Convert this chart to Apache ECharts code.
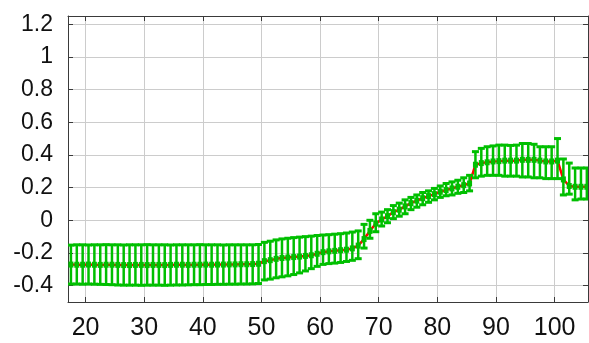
<!DOCTYPE html>
<html>
<head>
<meta charset="utf-8">
<script src="https://cdn.jsdelivr.net/npm/echarts@6/dist/echarts.min.js"></script>
<style>
html,body{margin:0;padding:0;background:#fff;}
#chart{width:589px;height:343px;}
</style>
</head>
<body>
<div id="chart"></div>
<script>
const ages = [17.5,18.5,19.5,20.5,21.5,22.5,23.5,24.5,25.5,26.5,27.5,28.5,29.5,30.5,31.5,32.5,33.5,34.5,35.5,36.5,37.5,38.5,39.5,40.5,41.5,42.5,43.5,44.5,45.5,46.5,47.5,48.5,49.5,
  50.5,51.5,52.5,53.5,54.5,55.5,56.5,57.5,58.5,59.5,
  60.5,61.5,62.5,63.5,64.5,65.5,66.5,
  67.5,68.5,69.5,70.5,71.5,72.5,73.5,74.5,75.5,76.5,77.5,78.5,79.5,80.5,81.5,82.5,83.5,84.5,85.5,
  86.5,87.5,88.5,89.5,90.5,91.5,92.5,93.5,94.5,95.5,96.5,97.5,98.5,99.5,100.5,
  101.5,102.5,103.5,104.5,105.5];
const meanValues = [-0.271,-0.272,-0.272,-0.271,-0.272,-0.273,-0.272,-0.272,-0.273,-0.274,-0.274,-0.273,-0.273,-0.274,-0.273,-0.273,-0.274,-0.273,-0.272,-0.272,-0.273,-0.272,-0.272,-0.271,-0.272,-0.271,-0.271,-0.270,-0.270,-0.269,-0.269,-0.268,-0.266,
  -0.250,-0.244,-0.236,-0.231,-0.228,-0.225,-0.222,-0.218,-0.214,-0.205,
  -0.195,-0.190,-0.187,-0.183,-0.180,-0.172,-0.155,
  -0.115,-0.065,-0.020,0.005,0.025,0.050,0.065,0.085,0.105,0.120,0.135,0.148,0.160,0.175,0.185,0.195,0.205,0.215,0.225,
  0.340,0.350,0.355,0.360,0.362,0.365,0.365,0.365,0.370,0.370,0.370,0.365,0.360,0.360,0.365,
  0.250,0.210,0.205,0.205,0.205];
const upperValues = [-0.152,-0.150,-0.150,-0.151,-0.150,-0.150,-0.149,-0.150,-0.150,-0.151,-0.150,-0.150,-0.150,-0.149,-0.150,-0.150,-0.150,-0.151,-0.150,-0.150,-0.150,-0.150,-0.149,-0.150,-0.150,-0.150,-0.151,-0.150,-0.150,-0.150,-0.150,-0.150,-0.148,
  -0.135,-0.128,-0.120,-0.114,-0.110,-0.106,-0.103,-0.100,-0.097,-0.093,
  -0.090,-0.088,-0.085,-0.082,-0.078,-0.072,-0.065,
  -0.025,0.000,0.040,0.050,0.065,0.090,0.105,0.125,0.140,0.155,0.170,0.180,0.195,0.210,0.225,0.235,0.245,0.260,0.275,
  0.420,0.440,0.450,0.455,0.460,0.460,0.458,0.460,0.470,0.470,0.465,0.450,0.450,0.450,0.500,
  0.375,0.350,0.320,0.320,0.320];
const lowerValues = [-0.390,-0.390,-0.391,-0.390,-0.391,-0.392,-0.393,-0.394,-0.396,-0.397,-0.397,-0.397,-0.398,-0.397,-0.397,-0.397,-0.398,-0.397,-0.396,-0.396,-0.395,-0.394,-0.394,-0.393,-0.393,-0.392,-0.392,-0.391,-0.391,-0.390,-0.390,-0.389,-0.387,
  -0.365,-0.360,-0.352,-0.346,-0.340,-0.332,-0.322,-0.310,-0.296,-0.282,
  -0.270,-0.265,-0.262,-0.258,-0.252,-0.245,-0.235,
  -0.170,-0.110,-0.070,-0.035,-0.015,0.010,0.025,0.040,0.065,0.080,0.095,0.110,0.125,0.140,0.150,0.155,0.165,0.170,0.180,
  0.260,0.270,0.275,0.275,0.275,0.270,0.270,0.270,0.265,0.265,0.260,0.260,0.255,0.255,0.255,
  0.155,0.160,0.125,0.130,0.130];
const xTicks = [20,30,40,50,60,70,80,90,100];
const yTicks = [-0.4,-0.2,0,0.2,0.4,0.6,0.8,1,1.2];

const GREEN = '#00bf00';
const FONT = '"Liberation Sans", Arial, sans-serif';

const errData = ages.map((a, i) => [a, lowerValues[i], upperValues[i], meanValues[i]]);
const lineData = ages.map((a, i) => [a, meanValues[i]]);

const chart = echarts.init(document.getElementById('chart'), null, {renderer: 'canvas'});

const axisLineStyle = {color: '#3a3a3a', width: 1};
const splitLineStyle = {color: '#cccccc', width: 1};

chart.setOption({
  animation: false,
  backgroundColor: '#ffffff',
  grid: {left: 68, right: 1, top: 16, bottom: 41, containLabel: false},
  xAxis: [{
    type: 'value', min: 17, max: 105.7, position: 'bottom',
    axisLine: {show: true, onZero: false, lineStyle: axisLineStyle},
    axisTick: {show: true, inside: true, length: 5, customValues: xTicks, lineStyle: {color: '#3a3a3a'}},
    axisLabel: {customValues: xTicks, margin: 14, fontSize: 25, color: '#111', fontFamily: FONT},
    splitLine: {show: true, lineStyle: splitLineStyle}
  }, {
    type: 'value', min: 17, max: 105.7, position: 'top',
    axisLine: {show: true, onZero: false, lineStyle: axisLineStyle},
    axisTick: {show: true, inside: true, length: 5, customValues: xTicks, lineStyle: {color: '#3a3a3a'}},
    axisLabel: {show: false},
    splitLine: {show: false}
  }],
  yAxis: [{
    type: 'value', min: -0.5, max: 1.25, position: 'left',
    axisLine: {show: true, onZero: false, lineStyle: axisLineStyle},
    axisTick: {show: true, inside: true, length: 5, customValues: yTicks, lineStyle: {color: '#3a3a3a'}},
    axisLabel: {customValues: yTicks, margin: 15, fontSize: 23, color: '#111', fontFamily: FONT},
    splitLine: {show: true, lineStyle: splitLineStyle}
  }, {
    type: 'value', min: -0.5, max: 1.25, position: 'right',
    axisLine: {show: true, onZero: false, lineStyle: axisLineStyle},
    axisTick: {show: true, inside: true, length: 5, customValues: yTicks, lineStyle: {color: '#3a3a3a'}},
    axisLabel: {show: false},
    splitLine: {show: false}
  }],
  series: [{
    type: 'line',
    xAxisIndex: 0, yAxisIndex: 0,
    data: lineData,
    showSymbol: false,
    symbol: 'none',
    z: 1,
    lineStyle: {color: '#ff0000', width: 2.5}
  }, {
    type: 'custom',
    xAxisIndex: 0, yAxisIndex: 0,
    clip: true,
    data: errData,
    z: 2,
    renderItem: function (params, api) {
      const x = api.value(0);
      const lo = api.coord([x, api.value(1)]);
      const hi = api.coord([x, api.value(2)]);
      const mid = api.coord([x, api.value(3)]);
      const hw = 3.5;
      const vStyle = {stroke: GREEN, lineWidth: 2.5, fill: null};
      const cStyle = {stroke: GREEN, lineWidth: 3, fill: null};
      return {
        type: 'group',
        children: [
          {type: 'line', shape: {x1: hi[0], y1: hi[1], x2: lo[0], y2: lo[1]}, style: vStyle},
          {type: 'line', shape: {x1: hi[0] - hw, y1: hi[1], x2: hi[0] + hw, y2: hi[1]}, style: cStyle},
          {type: 'line', shape: {x1: lo[0] - hw, y1: lo[1], x2: lo[0] + hw, y2: lo[1]}, style: cStyle},
          {type: 'rect', shape: {x: mid[0] - 2.5, y: mid[1] - 3, width: 5, height: 6}, style: {fill: GREEN}}
        ]
      };
    }
  }]
});
</script>
</body>
</html>
